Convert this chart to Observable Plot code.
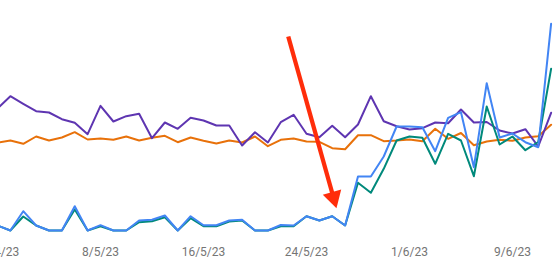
<!DOCTYPE html>
<html><head><meta charset="utf-8">
<script src="https://cdn.jsdelivr.net/npm/d3@7"></script>
<script src="https://cdn.jsdelivr.net/npm/@observablehq/plot@0.6"></script>
<style>html,body{margin:0;padding:0;background:#fff;} #chart svg{display:block;}</style>
</head><body><div id="chart"></div>
<script>
const startDate = "2023-04-30";
const endDate = "2023-06-12";
const dates = d3.utcDay.range(new Date(startDate), d3.utcDay.offset(new Date(endDate), 1));

// Impressions (purple)
const impressions = [132,144.3,136.7,129.3,128,121.3,117.7,106.3,134.7,119,124.3,126.7,102.3,118,111.7,122.7,120,115,115,95,108.3,98,118.3,125.7,106.7,103.3,114.7,103.3,116,144.3,119.3,114.3,111,112.3,118,117.3,131,118,118.5,110,107,111.3,94,127.7];
// Position (orange)
const position = [97.8,100,96.7,104,100,103,108.3,101,102,100.7,104,100,102.7,104.7,98.3,103,99.7,97,100,98,104,94.3,100.7,102,99,98.7,92.3,91.3,105.3,105.3,99.3,100,101,99.3,111.7,101.7,107.5,95.3,99,100.7,99.7,103,104.3,115.8];
// CTR (teal)
const ctr = [15,10,24,15,10,10,31,10,14.3,10,10,18.3,19.3,23.3,10,22.3,14.3,14.3,19,20,10,10,14.3,14.3,24.3,20,24.3,15,57.7,47.7,71.7,100,104,102.7,76.7,106.7,100,64.3,134,96,104,90.3,98.5,171.7];
// Clicks (blue)
const clicks = [15,10,29.3,15,10,10,34.3,10,15.3,10,10,20,20.7,25,10,24.3,15.3,15.3,20,20.7,10,10,15.5,15,24.3,20,24.3,15,64,64,84,114,114,113.3,89.3,122.7,128.3,73.3,157.3,103,107,98.3,93.3,216.7];

const seriesNames = ["Position","Impressions","CTR","Clicks"];
const seriesColors = ["#e8710a","#5e35b1","#00897b","#4285f4"];
const seriesValues = [position, impressions, ctr, clicks];

const tickDates = ["2023-04-30","2023-05-08","2023-05-16","2023-05-24","2023-06-01","2023-06-09"];
const tickLabels = ["30/4/23","8/5/23","16/5/23","24/5/23","1/6/23","9/6/23"];

// Red annotation arrow (data coordinates)
const arrowShaft = [{x1: "2023-05-22T14:00Z", y1: 204, x2: "2023-05-26T02:20Z", y2: 43}];
const arrowHead = [{x: "2023-05-26T02:20Z", y: 43}];
const arrowColor = "#ff2d0a";

const labelMap = new Map(tickDates.map((d, i) => [d, tickLabels[i]]));
const rows = seriesNames.flatMap((name, s) =>
  dates.map((date, i) => ({series: name, date, value: seriesValues[s][i]})));

const plot = Plot.plot({
  width: 553,
  height: 276,
  marginTop: 0,
  marginBottom: 36,
  marginLeft: 0,
  marginRight: 0,
  style: {fontFamily: "Roboto", fontSize: "12px", background: "#fff", color: "#757575"},
  x: {type: "utc", domain: [new Date(startDate), new Date(endDate)], range: [-3, 550.6]},
  y: {domain: [0, 240], axis: null},
  marks: [
    ...seriesNames.map((name, s) => Plot.lineY(rows.filter(r => r.series === name), {
      x: "date", y: "value", stroke: seriesColors[s], strokeWidth: 2, clip: true, curve: "linear"
    })),
    Plot.link(arrowShaft, {
      x1: d => new Date(d.x1), y1: "y1", x2: d => new Date(d.x2), y2: "y2",
      stroke: arrowColor, strokeWidth: 4.3, strokeLinecap: "butt"
    }),
    Plot.dot(arrowHead, {
      x: d => new Date(d.x), y: "y", symbol: "triangle", r: 7.1, rotate: 164.3,
      fill: arrowColor, stroke: "none"
    }),
    Plot.axisX({
      ticks: tickDates.map(d => new Date(d)),
      tickFormat: d => labelMap.get(d.toISOString().slice(0, 10)),
      tickSize: 0, tickPadding: 7, fontSize: 12, fill: "#757575"
    })
  ]
});
document.getElementById("chart").append(plot);
</script>
</body></html>
